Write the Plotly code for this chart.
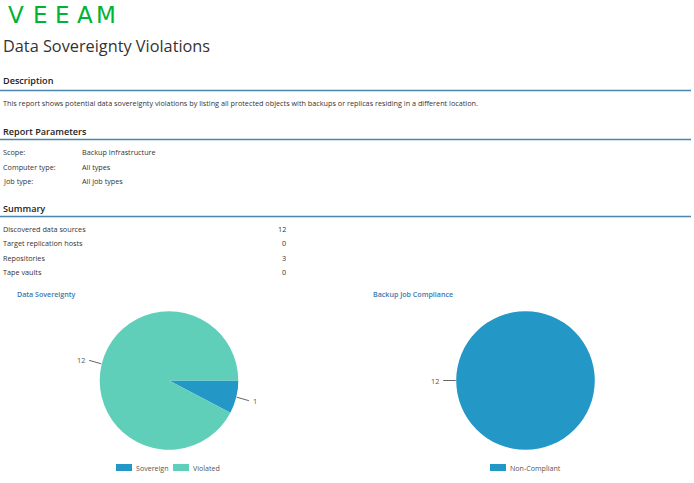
import math
import plotly.graph_objects as go

W, H = 694, 483

# ---- data ----
report_title = "Data Sovereignty Violations"
description = ("This report shows potential data sovereignty violations by listing all protected "
               "objects with backups or replicas residing in a different location.")
param_labels = ["Scope:", "Computer type:", "Job type:"]
param_values = ["Backup Infrastructure", "All types", "All job types"]
summary_labels = ["Discovered data sources", "Target replication hosts", "Repositories", "Tape vaults"]
summary_values = [12, 0, 3, 0]

sov_labels = ["Sovereign", "Violated"]
sov_values = [1, 12]
sov_colors = ["#2397c5", "#5fcfb9"]

comp_labels = ["Non-Compliant"]
comp_values = [12]
comp_colors = ["#2397c5"]

FONT = "Open Sans"
TXT = "#333333"
HEAD_LINE = "#4a86b0"
CHART_TITLE = "#3c78ad"


def px(x):
    return x / W


def py(y):
    return 1 - y / H


fig = go.Figure()
annotations = []
shapes = []


def text(x, y, s, size, color=TXT, anchor="left", family=FONT, weight="normal", yanchor="middle"):
    annotations.append(dict(x=px(x), y=py(y), xref="paper", yref="paper", text=s,
                            showarrow=False, xanchor=anchor, yanchor=yanchor,
                            font=dict(family=family, size=size, color=color, weight=weight)))


# logo (letters placed individually to mimic the wide wordmark)
for ch, cx in [("V", 16), ("E", 40), ("E", 62.5), ("A", 85), ("M", 106)]:
    text(cx, 0, ch, 23, color="#00b336", anchor="center", family="DejaVu Sans", yanchor="top")
# title
text(1, 46, report_title, 16.3)

# section headings with rules
for label, ty, ly in [("Description", 81, 90.5), ("Report Parameters", 131, 139.5),
                      ("Summary", 208, 216.5)]:
    text(1, ty, label, 9.1, color="#222222", weight=600)
    shapes.append(dict(type="line", xref="paper", yref="paper", x0=px(0), x1=px(691),
                       y0=py(ly), y1=py(ly), line=dict(color=HEAD_LINE, width=1.3)))

text(1, 103, description, 7.25)

for i, (lab, val) in enumerate(zip(param_labels, param_values)):
    yy = 152 + i * 14.5
    text(1, yy, lab, 7.25)
    text(80, yy, val, 7.25)

for i, (lab, val) in enumerate(zip(summary_labels, summary_values)):
    yy = 228.5 + i * 14.5
    text(1, yy, lab, 7.25)
    text(288, yy, str(val), 7.25, anchor="right")

# chart titles
text(15, 294, "Data Sovereignty", 7.1, color=CHART_TITLE, weight=600)
text(371, 294, "Backup Job Compliance", 7.1, color=CHART_TITLE, weight=600)

R = 69.3


def add_pie(cx, cy, labels, values, colors):
    fig.add_trace(go.Pie(
        labels=labels, values=values, sort=False, direction="clockwise", rotation=90,
        marker=dict(colors=colors, line=dict(width=0)), textinfo="none",
        hoverinfo="label+value", showlegend=False,
        domain=dict(x=[px(cx - R), px(cx + R)], y=[py(cy + R), py(cy - R)])))
    total = sum(values)
    cum = 0
    for v in values:
        mid = -(cum + v / 2) / total * 2 * math.pi  # 0 = 3 o'clock, clockwise
        cum += v
        ca, sa = math.cos(mid), math.sin(mid)
        x0, y0 = cx + (R + 0.5) * ca, cy - (R + 0.5) * sa
        x1, y1 = cx + (R + 13) * ca, cy - (R + 13) * sa + (2 if ca > 0 else -2) * abs(sa)
        shapes.append(dict(type="line", xref="paper", yref="paper", x0=px(x0), y0=py(y0),
                           x1=px(x1), y1=py(y1), line=dict(color="#666666", width=1)))
        text(x1 + (2 if ca >= 0 else -2), y1, str(v), 7.25, color="#555555",
             anchor="left" if ca >= 0 else "right")


add_pie(169.0, 380.5, sov_labels, sov_values, sov_colors)
add_pie(525.5, 380.5, comp_labels, comp_values, comp_colors)


def legend(x_start, items):
    x = x_start
    for lab, col, tw in items:
        shapes.append(dict(type="rect", xref="paper", yref="paper", x0=px(x), x1=px(x + 16),
                           y0=py(471), y1=py(464), fillcolor=col, line=dict(width=0)))
        text(x + 18, 467.5, lab, 7.1, color="#555555")
        x += 18 + tw + 7


legend(116, [(sov_labels[0], sov_colors[0], 32), (sov_labels[1], sov_colors[1], 30)])
legend(490, [(comp_labels[0], comp_colors[0], 50)])

fig.update_layout(width=W, height=H, margin=dict(l=0, r=0, t=0, b=0),
                  paper_bgcolor="white", plot_bgcolor="white",
                  annotations=annotations, shapes=shapes, showlegend=False)

fig.write_html("out.html", config={"displayModeBar": False},
               post_script="document.body.style.margin='0';document.body.style.overflow='hidden';")
